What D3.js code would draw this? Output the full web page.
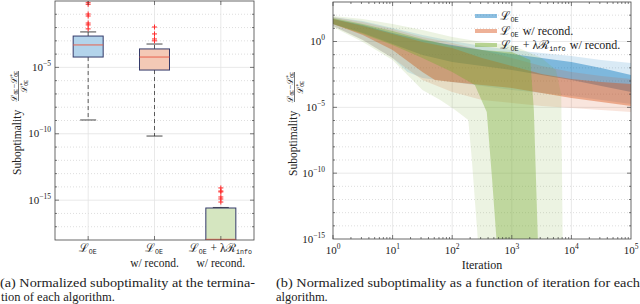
<!DOCTYPE html>
<meta charset="utf-8">
<script src="https://d3js.org/d3.v7.min.js"></script>
<style>
  body { margin: 0; background: #fff; }
  svg text, svg tspan { font-family: "Liberation Serif", Tinos, "Times New Roman", "DejaVu Serif", "Noto Serif", serif; fill: #222; }
  svg .tt { font-family: "Liberation Mono", Cousine, "DejaVu Sans Mono", monospace; }
</style>
<div id="chart"></div>
<script>
// ---------- data (log10 values) ----------
// (a) final suboptimality per algorithm
var algos = ["oe", "rc", "ri"];
var boxQ3 = [-2.64, -3.61, -15.59];
var boxMed = [-3.31, -4.22, -17.95];
var boxQ1 = [-4.22, -5.2, -19];
var whiskHi = [-2.33, -3.24, -15.55];
var whiskLo = [-8.96, -10.17, -19];
var outOE = [-0.13, -0.25, -0.98, -1.13, -1.66, -1.8, -2.1];
var outRC = [-1.96, -2.48, -2.86, -3.0];
var outRI = [-14.08, -14.31, -14.38, -14.76, -14.91, -15.14];

// (b) bands over iterations: [log10 iteration, log10 suboptimality]
var oeHi90 = [[0,1.86],[0.5,1.56],[1,1.03],[1.5,0.49],[2,0.04],[2.5,-0.34],[3,-0.65],[3.5,-0.87],[4,-1.1],[4.5,-1.4],[5,-1.63]];
var oeHi75 = [[0,1.71],[0.5,1.25],[1,0.65],[1.5,0.11],[2,-0.27],[2.5,-0.64],[3,-0.95],[3.5,-1.25],[4,-1.56],[4.5,-2.01],[5,-2.54]];
var oeLo25 = [[0,1.33],[0.5,0.65],[1,-0.19],[1.5,-1.02],[2,-1.56],[2.5,-1.86],[3,-2.16],[3.5,-2.54],[4,-2.92],[4.5,-3.38],[5,-3.83]];
var oeLo10 = [[0,1.18],[0.5,0.11],[1,-1.25],[1.25,-2.31],[1.5,-2.77],[2,-3.07],[2.5,-3.38],[3,-3.68],[3.5,-3.91],[4,-4.14],[4.5,-4.44],[5,-4.75]];

var rcHi90 = [[0,1.86],[0.5,1.48],[1,0.95],[1.5,0.34],[2,-0.11],[2.5,-0.64],[3,-1.25],[3.5,-1.86],[4,-2.32],[4.5,-2.62],[5,-2.85]];
var rcHi75 = [[0,1.71],[0.5,1.18],[1,0.57],[1.5,-0.04],[2,-0.49],[2.5,-1.25],[3,-1.86],[3.5,-2.47],[4,-2.85],[4.5,-3.07],[5,-3.23]];
var rcLo25 = [[0,1.33],[0.5,0.49],[1,-0.64],[1.5,-2.32],[1.71,-2.92],[2,-3.07],[2.5,-3.3],[3,-3.53],[3.5,-3.91],[4,-4.29],[4.5,-4.59],[5,-4.9]];
var rcLo10 = [[0,1.18],[0.5,0.11],[1,-1.25],[1.5,-2.92],[2,-3.83],[2.5,-4.44],[3,-4.67],[3.5,-4.9],[4,-5.05],[4.5,-5.2],[5,-5.35]];

var riHi90 = [[0,1.94],[0.5,1.71],[1,1.33],[1.5,0.87],[2,0.34],[2.5,-0.04],[3,-0.27],[3.5,-1.25],[3.74,-2.16],[3.83,-4.06],[3.86,-18]];
var riHi75 = [[0,1.79],[0.5,1.33],[1,0.8],[1.5,0.19],[2,-0.34],[2.5,-0.64],[3,-0.8],[3.31,-1.4],[3.37,-5.2],[3.44,-15.45],[3.46,-18]];
var riLo25 = [[0,1.33],[0.5,0.57],[1,-0.27],[1.5,-1.25],[2,-2.32],[2.38,-3.3],[2.58,-5.35],[2.67,-10.5],[2.75,-15.45],[2.77,-18]];
var riLo10 = [[0,1.1],[0.5,-0.04],[1,-1.4],[1.5,-3.68],[1.8,-4.44],[2.05,-5.2],[2.27,-5.96],[2.33,-9.0],[2.43,-15.07],[2.45,-18]];

var leftYTicks = [-5, -10, -15];
var rightYTicks = [0, -5, -10, -15];
var rightXTicks = [0, 1, 2, 3, 4, 5];

var colOE = "#0072BD", colRC = "#D95319", colRI = "#77AC30";
var SERIF = "Liberation Serif, Tinos, Times New Roman, DejaVu Serif, Noto Serif, serif";

// ---------- helpers ----------
var svg = d3.select("#chart").append("svg").attr("width", 640).attr("height", 304)
  .attr("font-family", SERIF);

function pow(e) { return Math.pow(10, e); }

function tenTo(sel, x, y, e, anchor) {
  var t = sel.append("text").attr("x", x).attr("y", y).attr("text-anchor", anchor).attr("font-size", 11);
  t.append("tspan").text("10");
  t.append("tspan").text(e === 0 ? "0" : "\u2212" + (-e)).attr("font-size", 7.5).attr("dy", -5);
  return t;
}

// script letter with typewriter subscript
function addSym(t, letter, sub, size, star) {
  t.append("tspan").text(letter).attr("font-size", size);
  if (star) {
    t.append("tspan").text("*").attr("font-size", size * 0.6).attr("dy", -size * 0.35);
    t.append("tspan").attr("class", "tt").text(sub).attr("font-size", size * 0.55)
      .attr("dx", -size * 0.3).attr("dy", size * 0.5);
    t.append("tspan").text("\u200a").attr("font-size", size).attr("dy", -size * 0.15);
  } else {
    t.append("tspan").attr("class", "tt").text(sub).attr("font-size", size * 0.55).attr("dy", size * 0.15);
    t.append("tspan").text("\u200a").attr("font-size", size).attr("dy", -size * 0.15);
  }
}

function yLabel(x0, y0) {
  var g = svg.append("g").attr("transform", "translate(" + x0 + "," + y0 + ") rotate(-90)");
  g.append("text").attr("x", 0).attr("y", 0).attr("font-size", 11.5).text("Suboptimality");
  var num = g.append("text").attr("x", 89).attr("y", -4.5).attr("text-anchor", "middle");
  addSym(num, "\u2112", "OE", 8.5, false);
  num.append("tspan").text("\u2212").attr("font-size", 8);
  addSym(num, "\u2112", "OE", 8.5, true);
  g.append("line").attr("x1", 74).attr("x2", 104).attr("y1", -2.5).attr("y2", -2.5)
    .attr("stroke", "#222").attr("stroke-width", 0.6);
  var den = g.append("text").attr("x", 89).attr("y", 5.5).attr("text-anchor", "middle");
  addSym(den, "\u2112", "OE", 8.5, true);
}

function plus(g, cx, cy) {
  g.append("path").attr("d", "M" + (cx - 2.5) + "," + cy + "h5M" + cx + "," + (cy - 2.5) + "v5")
    .attr("stroke", "#ff2a2a").attr("stroke-width", 1);
}

// ---------- (a) box plot ----------
var LA = {x0: 55, x1: 254, y0: 1, y1: 240};
var xb = d3.scalePoint().domain(algos).range([LA.x0, LA.x1]).padding(0.5);
var yb = d3.scaleLog().domain([1e-18, 1]).range([LA.y1, LA.y0]);

svg.append("clipPath").attr("id", "clipA").append("rect")
  .attr("x", LA.x0).attr("y", LA.y0).attr("width", LA.x1 - LA.x0).attr("height", LA.y1 - LA.y0);

var gridA = svg.append("g");
d3.range(-17, 0).forEach(function (e) {
  var major = e % 5 === 0;
  gridA.append("line").attr("x1", LA.x0).attr("x2", LA.x1).attr("y1", yb(pow(e))).attr("y2", yb(pow(e)))
    .attr("stroke", major ? "#e3e3e3" : "#d0d0d0").attr("stroke-width", major ? 0.8 : 0.7)
    .attr("stroke-dasharray", major ? null : "1,2");
});
algos.forEach(function (a) {
  gridA.append("line").attr("x1", xb(a)).attr("x2", xb(a)).attr("y1", LA.y0).attr("y2", LA.y1)
    .attr("stroke", "#e3e3e3").attr("stroke-width", 0.8);
});

var boxFill = ["#b3d4eb", "#f4c9b6", "#d5e6c0"];
var outs = [outOE, outRC, outRI];
var plotA = svg.append("g").attr("clip-path", "url(#clipA)");
algos.forEach(function (a, i) {
  var cx = xb(a);
  plotA.append("line").attr("x1", cx).attr("x2", cx).attr("y1", yb(pow(boxQ3[i]))).attr("y2", yb(pow(whiskHi[i])))
    .attr("stroke", "#333").attr("stroke-dasharray", "4,3").attr("stroke-width", 0.8);
  plotA.append("line").attr("x1", cx).attr("x2", cx).attr("y1", yb(pow(boxQ1[i]))).attr("y2", yb(pow(whiskLo[i])))
    .attr("stroke", "#333").attr("stroke-dasharray", "4,3").attr("stroke-width", 0.8);
  [whiskHi[i], whiskLo[i]].forEach(function (w) {
    plotA.append("line").attr("x1", cx - 8).attr("x2", cx + 8).attr("y1", yb(pow(w))).attr("y2", yb(pow(w)))
      .attr("stroke", "#333").attr("stroke-width", 0.9);
  });
  plotA.append("rect").attr("x", cx - 15).attr("width", 30)
    .attr("y", yb(pow(boxQ3[i]))).attr("height", yb(pow(boxQ1[i])) - yb(pow(boxQ3[i])))
    .attr("fill", boxFill[i]).attr("stroke", "#343a6a").attr("stroke-width", 1);
  plotA.append("line").attr("x1", cx - 15).attr("x2", cx + 15).attr("y1", yb(pow(boxMed[i]))).attr("y2", yb(pow(boxMed[i])))
    .attr("stroke", "#e8604c").attr("stroke-width", 1);
  outs[i].forEach(function (o) { plus(plotA, cx, yb(pow(o))); });
});

// frame and ticks
var axA = svg.append("g");
axA.append("rect").attr("x", LA.x0).attr("y", LA.y0).attr("width", LA.x1 - LA.x0).attr("height", LA.y1 - LA.y0)
  .attr("fill", "none").attr("stroke", "#444").attr("stroke-width", 0.8);
d3.range(-17, 0).forEach(function (e) {
  var len = e % 5 === 0 ? 4 : 2, y = yb(pow(e));
  axA.append("line").attr("x1", LA.x0).attr("x2", LA.x0 + len).attr("y1", y).attr("y2", y).attr("stroke", "#444").attr("stroke-width", 0.7);
  axA.append("line").attr("x1", LA.x1).attr("x2", LA.x1 - len).attr("y1", y).attr("y2", y).attr("stroke", "#444").attr("stroke-width", 0.7);
});
algos.forEach(function (a) {
  axA.append("line").attr("x1", xb(a)).attr("x2", xb(a)).attr("y1", LA.y1).attr("y2", LA.y1 - 4).attr("stroke", "#444").attr("stroke-width", 0.7);
  axA.append("line").attr("x1", xb(a)).attr("x2", xb(a)).attr("y1", LA.y0).attr("y2", LA.y0 + 4).attr("stroke", "#444").attr("stroke-width", 0.7);
});
leftYTicks.forEach(function (e) { tenTo(svg, 51, yb(pow(e)) + 3.5, e, "end"); });

// category labels
var c1 = svg.append("text").attr("x", xb("oe")).attr("y", 252).attr("text-anchor", "middle");
addSym(c1, "\u2112", "OE", 12, false);
var c2 = svg.append("text").attr("x", xb("rc")).attr("y", 252).attr("text-anchor", "middle");
addSym(c2, "\u2112", "OE", 12, false);
svg.append("text").attr("x", xb("rc")).attr("y", 267).attr("text-anchor", "middle").attr("font-size", 11.5).text("w/ recond.");
var c3 = svg.append("text").attr("x", xb("ri")).attr("y", 252).attr("text-anchor", "middle");
addSym(c3, "\u2112", "OE", 12, false);
c3.append("tspan").text(" + \u03bb").attr("font-size", 11.5);
addSym(c3, "\u211b", "info", 12, false);
svg.append("text").attr("x", xb("ri")).attr("y", 267).attr("text-anchor", "middle").attr("font-size", 11.5).text("w/ recond.");

yLabel(21, 175);

// ---------- (b) bands ----------
var RB = {x0: 333, x1: 631, y0: 2, y1: 239};
var xi = d3.scaleLog().domain([1, 1e5]).range([RB.x0, RB.x1]);
var yi = d3.scaleLog().domain([1e-15, 1e3]).range([RB.y1, RB.y0]);

svg.append("clipPath").attr("id", "clipB").append("rect")
  .attr("x", RB.x0).attr("y", RB.y0).attr("width", RB.x1 - RB.x0).attr("height", RB.y1 - RB.y0);

var gridB = svg.append("g");
d3.range(-14, 3).forEach(function (e) {
  var major = e % 5 === 0;
  gridB.append("line").attr("x1", RB.x0).attr("x2", RB.x1).attr("y1", yi(pow(e))).attr("y2", yi(pow(e)))
    .attr("stroke", major ? "#e3e3e3" : "#d0d0d0").attr("stroke-width", major ? 0.8 : 0.7)
    .attr("stroke-dasharray", major ? null : "1,2");
});
[1, 2, 3, 4].forEach(function (e) {
  gridB.append("line").attr("x1", xi(pow(e))).attr("x2", xi(pow(e))).attr("y1", RB.y0).attr("y2", RB.y1)
    .attr("stroke", "#e3e3e3").attr("stroke-width", 0.8);
});

var edge = d3.line().x(function (d) { return xi(pow(d[0])); }).y(function (d) { return yi(pow(d[1])); });
function band(g, hi, lo, col, op) {
  g.append("path").attr("d", edge(hi.concat(lo.slice().reverse())) + "Z")
    .attr("fill", col).attr("fill-opacity", op).attr("stroke", "none");
}
var plotB = svg.append("g").attr("clip-path", "url(#clipB)");
band(plotB, oeHi90, oeLo10, colOE, 0.15);
band(plotB, oeHi75, oeLo25, colOE, 0.42);
band(plotB, rcHi90, rcLo10, colRC, 0.15);
band(plotB, rcHi75, rcLo25, colRC, 0.42);
band(plotB, riHi90, riLo10, colRI, 0.14);
band(plotB, riHi75, riLo25, colRI, 0.38);

var axB = svg.append("g");
axB.append("rect").attr("x", RB.x0).attr("y", RB.y0).attr("width", RB.x1 - RB.x0).attr("height", RB.y1 - RB.y0)
  .attr("fill", "none").attr("stroke", "#444").attr("stroke-width", 0.8);
d3.range(-14, 3).forEach(function (e) {
  var len = e % 5 === 0 ? 4 : 2, y = yi(pow(e));
  axB.append("line").attr("x1", RB.x0).attr("x2", RB.x0 + len).attr("y1", y).attr("y2", y).attr("stroke", "#444").attr("stroke-width", 0.7);
  axB.append("line").attr("x1", RB.x1).attr("x2", RB.x1 - len).attr("y1", y).attr("y2", y).attr("stroke", "#444").attr("stroke-width", 0.7);
});
d3.range(0, 5).forEach(function (e) {
  d3.range(1, 10).forEach(function (m) {
    var x = xi(m * pow(e)), len = m === 1 ? 4 : 2;
    axB.append("line").attr("x1", x).attr("x2", x).attr("y1", RB.y1).attr("y2", RB.y1 - len).attr("stroke", "#444").attr("stroke-width", 0.7);
    axB.append("line").attr("x1", x).attr("x2", x).attr("y1", RB.y0).attr("y2", RB.y0 + len).attr("stroke", "#444").attr("stroke-width", 0.7);
  });
});
rightYTicks.forEach(function (e) { tenTo(svg, 325, yi(pow(e)) + 3.5, e, "end"); });
rightXTicks.forEach(function (e) {
  var t = svg.append("text").attr("x", xi(pow(e))).attr("y", 254).attr("text-anchor", "middle").attr("font-size", 11);
  t.append("tspan").text("10");
  t.append("tspan").text(String(e)).attr("font-size", 7.5).attr("dy", -5);
});
svg.append("text").attr("x", 482).attr("y", 269).attr("text-anchor", "middle").attr("font-size", 12).text("Iteration");
yLabel(297, 176);

// legend
var legItems = [
  {col: colOE, y: 16, rc: false, ri: false},
  {col: colRC, y: 31, rc: true, ri: false},
  {col: colRI, y: 45, rc: true, ri: true}
];
legItems.forEach(function (d) {
  svg.append("rect").attr("x", 475).attr("y", d.y - 2).attr("width", 22).attr("height", 4)
    .attr("fill", d.col).attr("fill-opacity", 0.45);
  var t = svg.append("text").attr("x", 500).attr("y", d.y + 4);
  addSym(t, "\u2112", "OE", 12.5, false);
  if (d.ri) {
    t.append("tspan").text(" + \u03bb").attr("font-size", 12);
    addSym(t, "\u211b", "info", 12.5, false);
  }
  if (d.rc) t.append("tspan").text(" w/ recond.").attr("font-size", 12);
});

// captions
svg.append("text").attr("x", 0).attr("y", 287).attr("font-size", 12.5).attr("textLength", 255).attr("lengthAdjust", "spacingAndGlyphs")
  .text("(a) Normalized suboptimality at the termina-");
svg.append("text").attr("x", 1).attr("y", 301).attr("font-size", 12.5).text("tion of each algorithm.");
svg.append("text").attr("x", 276).attr("y", 287).attr("font-size", 12.5).attr("textLength", 364).attr("lengthAdjust", "spacingAndGlyphs")
  .text("(b) Normalized suboptimality as a function of iteration for each");
svg.append("text").attr("x", 276).attr("y", 301).attr("font-size", 12.5).text("algorithm.");
</script>
